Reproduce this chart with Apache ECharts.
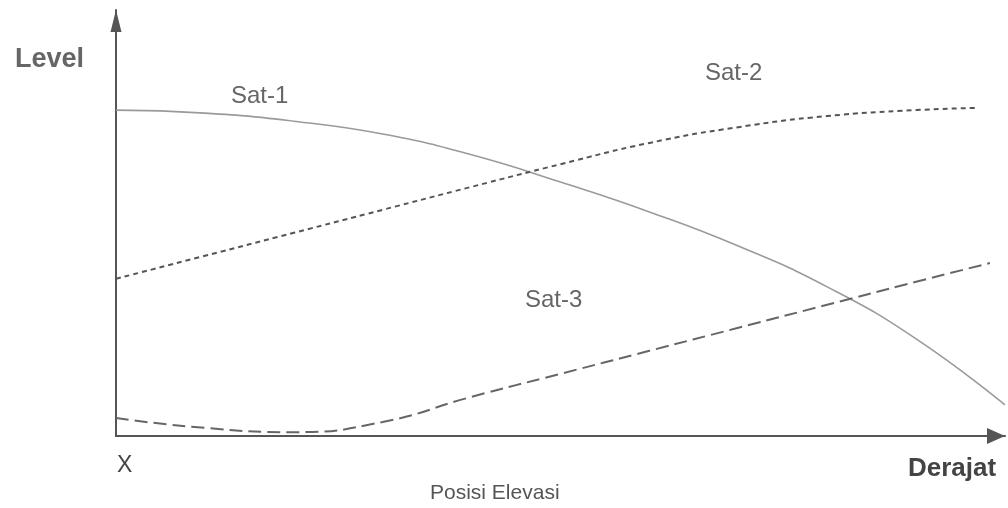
<!DOCTYPE html>
<html>
<head>
<meta charset="utf-8">
<script src="https://cdn.jsdelivr.net/npm/echarts@6/dist/echarts.min.js"></script>
<style>
  html, body { margin: 0; padding: 0; background: #fff; }
  #chart { width: 1008px; height: 508px; }
</style>
</head>
<body>
<div id="chart"></div>
<script>
// Relative signal level of three satellites against elevation position
// x: elevation position (0..100), y: level (0..100)
const sat1 = [[0, 76.5], [10, 75.8], [20, 73.9], [30, 70.9], [40, 66.0], [50, 59.6], [60, 52.6], [70, 44.6], [80, 35.0], [90, 22.8], [100, 7.3]];
const sat2 = [[0, 36.9], [10, 42.3], [20, 47.7], [30, 53.1], [40, 58.5], [50, 63.8], [60, 68.8], [70, 72.5], [80, 75.1], [90, 76.5], [96.7, 77.0]];
const sat3 = [[0, 4.2], [10, 1.9], [20, 0.9], [30, 3.3], [40, 9.2], [50, 14.6], [60, 20.0], [70, 25.4], [80, 30.8], [90, 36.2], [98.3, 40.6]];
const seriesNames = ['Sat-1', 'Sat-2', 'Sat-3'];

const font = "'Liberation Sans', Arial, sans-serif";
const chart = echarts.init(document.getElementById('chart'), null, { renderer: 'canvas' });

// axis line with a filled triangle whose tip sits on the line end
const axisLine = (size) => ({
  show: true,
  symbol: ['none', 'triangle'],
  symbolSize: size,
  symbolOffset: [0, -size[1] / 2],
  lineStyle: { color: '#555', width: 2 }
});

const curve = (name, data, color, width, dash) => ({
  name, type: 'line', data,
  smooth: 0.5, showSymbol: false,
  lineStyle: { color, width, type: dash }
});

chart.setOption({
  animation: false,
  backgroundColor: '#fff',
  grid: { left: 116, right: 3, top: 10, bottom: 72 },
  xAxis: {
    type: 'value', min: 0, max: 100,
    axisLine: axisLine([16, 18]),
    axisTick: { show: false }, axisLabel: { show: false }, splitLine: { show: false }
  },
  yAxis: {
    type: 'value', min: 0, max: 100,
    axisLine: axisLine([11, 22]),
    axisTick: { show: false }, axisLabel: { show: false }, splitLine: { show: false }
  },
  series: [
    curve(seriesNames[0], sat1, '#9a9a9a', 1.6, 'solid'),
    curve(seriesNames[1], sat2, '#555', 2, [5, 4]),
    curve(seriesNames[2], sat3, '#666', 2, [13, 6])
  ],
  graphic: [
    { type: 'text', left: 15, top: 46, style: { text: 'Level', font: 'bold 27px ' + font, fill: '#666' } },
    { type: 'text', left: 231, top: 84, style: { text: seriesNames[0], font: '24px ' + font, fill: '#666' } },
    { type: 'text', left: 705, top: 61, style: { text: seriesNames[1], font: '24px ' + font, fill: '#666' } },
    { type: 'text', left: 525, top: 288, style: { text: seriesNames[2], font: '24px ' + font, fill: '#666' } },
    { type: 'text', left: 117, top: 454, style: { text: 'X', font: '23px ' + font, fill: '#444' } },
    { type: 'text', left: 908, top: 456, style: { text: 'Derajat', font: 'bold 26px ' + font, fill: '#444' } },
    { type: 'text', left: 430, top: 483, style: { text: 'Posisi Elevasi', font: '21px ' + font, fill: '#555' } }
  ]
});
</script>
</body>
</html>
